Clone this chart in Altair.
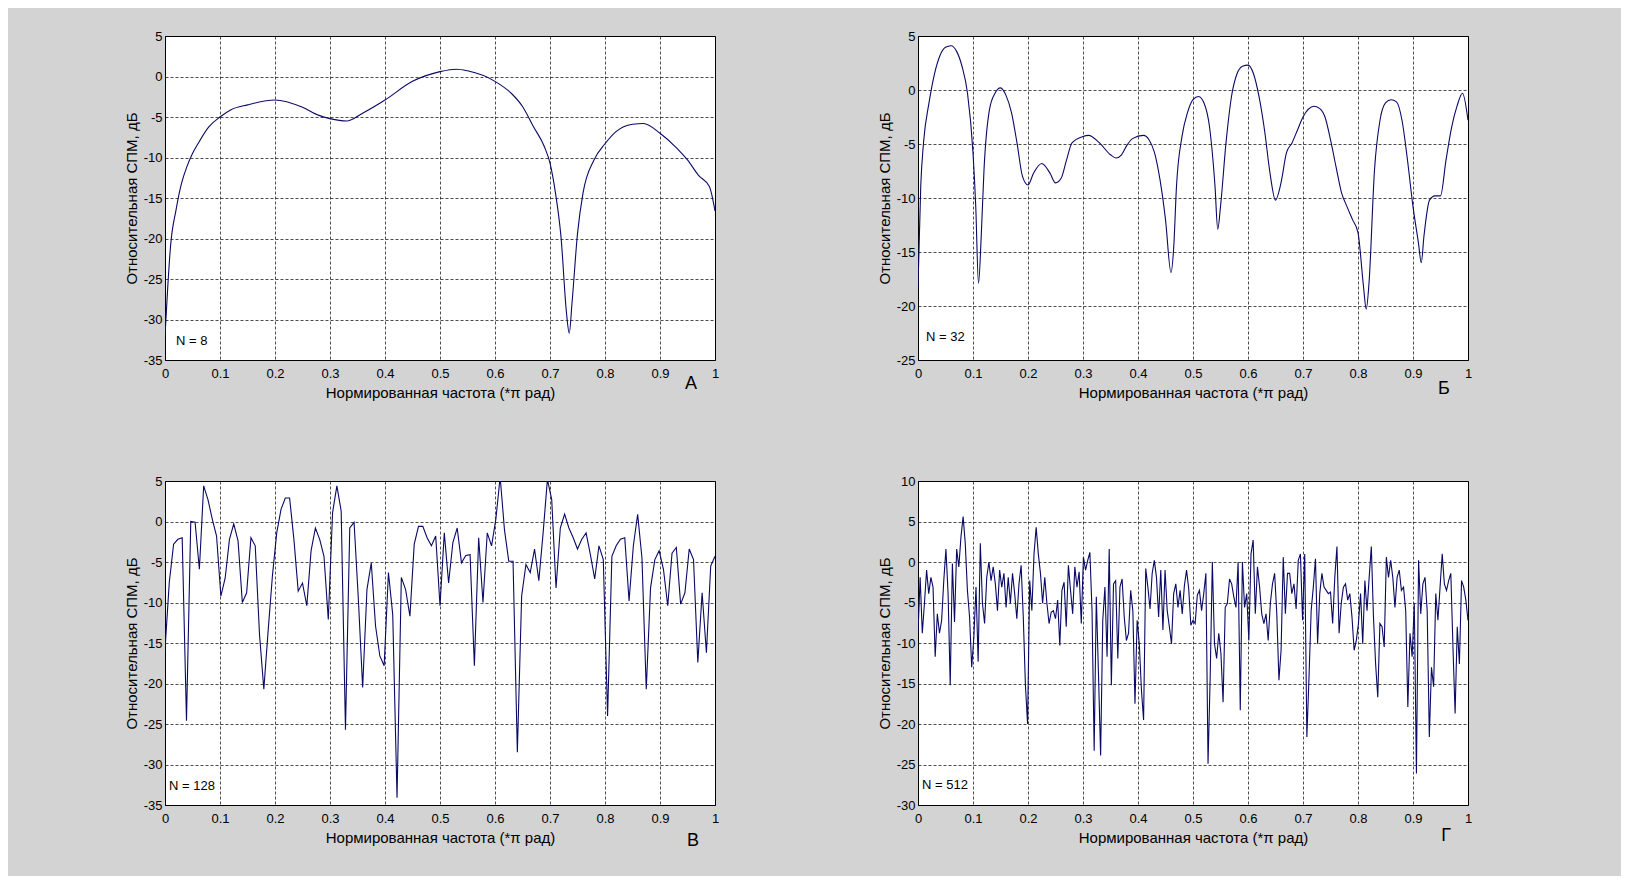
import altair as alt
import pandas as pd

FONT = "Liberation Sans"
LINE_COLOR = "#0a0a66"
BG = "#d3d3d3"

X_TITLE = "Нормированная частота (*π рад)"
Y_TITLE = "Относительная СПМ, дБ"
X_TICKS = [0, 0.1, 0.2, 0.3, 0.4, 0.5, 0.6, 0.7, 0.8, 0.9, 1]

# Panel A (N = 8)
F8 = [0, 0.005, 0.01, 0.02, 0.03, 0.04, 0.05, 0.06, 0.08, 0.1, 0.12, 0.15, 0.2, 0.25,
      0.28, 0.3, 0.33, 0.36, 0.4, 0.45, 0.5, 0.53, 0.55, 0.6, 0.63, 0.65, 0.67, 0.69,
      0.7, 0.71, 0.72, 0.73, 0.735, 0.74, 0.75, 0.76, 0.78, 0.8, 0.82, 0.85, 0.87, 0.9,
      0.93, 0.95, 0.97, 0.99, 1.0]
V8 = [-32, -26, -21, -16.5, -13.2, -11.1, -9.5, -8.3, -6.2, -5.0, -4.1, -3.5, -2.9, -3.8,
      -4.8, -5.2, -5.5, -4.5, -2.9, -0.6, 0.6, 0.9, 0.7, -0.6, -2.1, -3.7, -6.2, -8.7,
      -10.7, -14.4, -19.8, -29.2, -31.7, -28, -19.4, -14.4, -10.3, -8.3, -6.8, -5.9, -5.8, -7.0,
      -8.8, -10.3, -12.2, -13.6, -16.6]

# Panel Б (N = 32)
F32 = [0, 0.005, 0.01, 0.02, 0.03, 0.04, 0.05, 0.06, 0.07, 0.08,
       0.09, 0.1, 0.105, 0.11, 0.115, 0.12, 0.13, 0.14, 0.15, 0.16,
       0.17, 0.18, 0.19, 0.2, 0.21, 0.225, 0.24, 0.25, 0.26, 0.27,
       0.28, 0.3, 0.31, 0.33, 0.35, 0.36, 0.37, 0.38, 0.39, 0.41,
       0.42, 0.43, 0.44, 0.45, 0.46, 0.465, 0.47, 0.48, 0.49, 0.5,
       0.51, 0.52, 0.53, 0.54, 0.545, 0.55, 0.56, 0.57, 0.58, 0.59,
       0.6, 0.61, 0.62, 0.63, 0.64, 0.65, 0.66, 0.67, 0.68, 0.69,
       0.7, 0.72, 0.73, 0.74, 0.75, 0.76, 0.77, 0.78, 0.79, 0.8,
       0.81, 0.815, 0.82, 0.83, 0.84, 0.85, 0.86, 0.87, 0.88, 0.89,
       0.9, 0.91, 0.915, 0.92, 0.93, 0.94, 0.95, 0.96, 0.97, 0.98,
       0.99, 1.0]
V32 = [-18.2, -8.9, -4.9, -1.2, 1.5, 3.2, 3.95, 4.1, 3.6, 2.2,
       -0.3, -5.8, -10.8, -17.9, -13.5, -7.4, -1.8, -0.3, 0.2, -0.5,
       -2.1, -4.9, -8.0, -8.8, -7.7, -6.8, -7.7, -8.6, -8.2, -6.5,
       -4.9, -4.3, -4.2, -4.9, -6.0, -6.3, -6.0, -5.1, -4.5, -4.2,
       -4.6, -5.8, -8.3, -12.0, -16.9, -14.5, -8.9, -4.3, -2.1, -0.9,
       -0.6, -1.2, -3.4, -8.9, -12.9, -10.8, -4.9, -0.6, 1.5, 2.2,
       2.3, 1.5, -0.6, -3.7, -7.7, -10.2, -8.6, -5.8, -4.9, -3.7,
       -2.5, -1.5, -1.7, -2.5, -4.6, -7.1, -9.5, -10.8, -12.0, -13.2,
       -18.2, -20.3, -17.9, -7.4, -2.8, -1.2, -0.9, -1.1, -2.8, -6.5,
       -10.8, -14.2, -16.0, -13.5, -10.2, -9.8, -9.8, -6.5, -3.5, -1.5,
       -0.3, -2.8]

# Panel В (N = 128), frequency step 1/128
V128 = [-15.8, -7.5, -2.8, -2.2, -2.0, -24.6, 0.0, -0.1, -5.9, 4.4,
        2.7, 0.3, -1.8, -9.2, -7.0, -2.2, -0.3, -2.4, -10.0, -8.8,
        -2.0, -3.0, -14.0, -20.7, -13.5, -6.7, -1.4, 1.5, 2.9, 2.9,
        -2.2, -8.6, -7.6, -10.4, -3.6, -0.8, -2.2, -4.3, -12.1, 1.1,
        4.4, 1.3, -25.7, -0.8, -0.1, -9.6, -20.5, -8.4, -5.1, -12.9,
        -16.6, -17.8, -6.3, -11.5, -34.1, -6.9, -8.4, -11.7, -2.8, -0.6,
        -0.6, -2.0, -3.0, -1.8, -10.4, -1.4, -7.6, -2.6, -0.8, -5.1,
        -4.2, -4.1, -17.8, -2.0, -10.0, -1.4, -3.0, 0.3, 5.5, -1.0,
        -4.9, -4.9, -28.5, -9.2, -5.3, -6.3, -3.4, -7.3, -1.4, 5.2,
        2.7, -8.2, -0.8, 0.9, -0.8, -2.0, -3.4, -2.2, -1.4, -4.1,
        -7.1, -3.0, -4.7, -24.0, -4.3, -3.0, -2.2, -2.0, -9.8, -3.0,
        0.9, -4.5, -20.7, -8.2, -4.7, -3.6, -5.9, -10.4, -3.9, -3.2,
        -10.2, -8.8, -3.4, -4.7, -17.4, -8.8, -16.2, -5.5, -4.3]
F128 = [k / 128 for k in range(len(V128))]

# Panel Г (N = 512), frequency step 1/256
V512 = [-8.8, -1.9, -8.8, -5.1, -1.0, -3.9, -1.9, -3.1, -11.7, -6.4,
        -8.8, -7.2, -2.3, 1.6, -3.9, -15.2, -0.2, -7.4, 1.6, -0.6,
        3.1, 5.6, 2.3, -3.5, -6.8, -13.0, -9.3, -3.1, -12.3, 2.3,
        -5.1, -7.6, -1.9, 0.0, -2.3, -0.6, -2.7, -6.0, -1.0, -3.1,
        -1.4, -5.6, -1.9, -5.1, -1.4, -3.9, -7.0, -2.7, -0.4, -6.8,
        -15.2, -20.0, -2.3, -6.0, 1.0, 4.3, 1.0, -1.4, -5.1, -1.9,
        -5.1, -7.6, -6.2, -6.0, -7.0, -4.7, -10.3, -3.5, -2.5, -8.0,
        -0.4, -3.5, -6.4, -0.6, -3.1, -1.2, -7.6, 0.6, -1.0, 0.2,
        1.2, -6.0, -23.3, -4.3, -13.8, -23.9, -7.2, -3.1, -11.7, 1.6,
        -15.2, -2.7, -2.3, -11.9, -3.1, -2.1, -6.8, -9.7, -8.8, -3.5,
        -6.0, -17.5, -7.2, -10.1, -15.8, -19.5, -0.8, -3.1, -5.8, -1.4,
        0.2, -1.9, -6.8, -1.0, -8.4, -1.0, -6.0, -8.0, -10.1, -3.9,
        -2.7, -5.6, -3.5, -6.4, -2.9, -1.0, -3.3, -7.8, -7.2, -7.6,
        -4.1, -3.5, -6.0, -3.9, -1.4, -24.9, -14.2, 0.0, -10.1, -11.9,
        -8.8, -11.3, -17.3, -5.6, -5.1, -2.1, -2.7, -4.3, -5.6, 0.0,
        -18.3, 0.0, -5.6, -3.9, -9.7, 1.0, 2.7, -6.4, -0.6, -3.1,
        -6.4, -7.6, -6.4, -9.7, -5.1, -2.7, -1.4, -6.4, -14.6, -10.9,
        0.6, -6.4, -1.4, -1.4, -3.9, -2.7, -5.8, 0.2, 1.0, -7.2,
        1.0, -21.6, -14.2, -6.0, -3.1, 0.4, -10.1, -3.9, -1.4, -3.1,
        -3.5, -3.9, -3.7, -7.6, -1.9, 1.9, -8.8, -5.1, -3.1, -2.7,
        -4.7, -3.9, -6.8, -10.9, -9.7, -7.6, -3.9, -10.1, -2.3, -6.0,
        -1.9, 1.9, -6.8, -12.6, -16.7, -7.6, -8.0, -10.5, 0.6, -1.9,
        0.2, -1.9, -5.6, -1.9, -1.0, -3.5, -3.1, -6.0, -17.9, -8.8,
        -11.7, -5.1, -26.1, 0.2, -6.4, -2.7, -1.9, -6.0, -21.6, -13.0,
        -15.4, -3.9, -7.2, -3.1, 1.0, -2.7, -3.5, -2.3, -1.4, -10.5,
        -18.7, -8.0, -12.6, -2.3, -3.1, -4.7, -7.2]
F512 = [k / 256 for k in range(len(V512))]

N_LABELS = ["N = 8", "N = 32", "N = 128", "N = 512"]
LETTERS = ["А", "Б", "В", "Г"]
Y_RANGES = [(-35, 5), (-25, 5), (-35, 5), (-30, 10)]

W, H = 550, 324


def panel(f, v, yr, n_label, letter, interp, n_xy, l_xy):
    df = pd.DataFrame({"f": f, "v": v})
    ymin, ymax = yr
    line = alt.Chart(df).mark_line(
        color=LINE_COLOR, strokeWidth=1.1, clip=True, interpolate=interp
    ).encode(
        x=alt.X("f:Q", scale=alt.Scale(domain=[0, 1], nice=False, zero=False),
                axis=alt.Axis(values=X_TICKS, title=X_TITLE, format="~g")),
        y=alt.Y("v:Q", scale=alt.Scale(domain=[ymin, ymax], nice=False, zero=False),
                axis=alt.Axis(values=list(range(ymin, ymax + 1, 5)), title=Y_TITLE,
                              labelExpr="replace(datum.label, '\u2212', '-')")),
    )
    ntext = alt.Chart(pd.DataFrame({"t": [n_label]})).mark_text(
        align="left", baseline="alphabetic", fontSize=13, color="black"
    ).encode(text="t:N", x=alt.value(n_xy[0]), y=alt.value(n_xy[1]))
    ltext = alt.Chart(pd.DataFrame({"t": [letter]})).mark_text(
        align="center", baseline="alphabetic", fontSize=18, color="black"
    ).encode(text="t:N", x=alt.value(l_xy[0]), y=alt.value(l_xy[1]))
    return alt.layer(line, ntext, ltext).properties(width=W, height=H)


pA = panel(F8, V8, Y_RANGES[0], N_LABELS[0], LETTERS[0], "monotone", (11, 309), (526, 353))
pB = panel(F32, V32, Y_RANGES[1], N_LABELS[1], LETTERS[1], "monotone", (8, 305), (526, 358))
pC = panel(F128, V128, Y_RANGES[2], N_LABELS[2], LETTERS[2], "linear", (4, 309), (528, 365))
pD = panel(F512, V512, Y_RANGES[3], N_LABELS[3], LETTERS[3], "linear", (4, 308), (528, 360))

chart = alt.concat(
    pA, pB, pC, pD, columns=2, spacing={"row": 121, "column": 203}, bounds="flush"
).properties(
    background=BG,
    padding={"left": 115, "top": 21, "right": 148, "bottom": 25},
).configure_axis(
    labelFont=FONT, titleFont=FONT, labelFontSize=13, titleFontSize=15,
    labelColor="black", titleColor="black", titleFontWeight="normal",
    domainColor="black", gridColor="black", gridDash=[3, 2], gridOpacity=1,
    gridWidth=0.7, ticks=False, tickSize=0, labelFlush=False, labelOverlap=False,
).configure_axisX(labelPadding=7, titlePadding=5).configure_axisY(
    labelPadding=3, titlePadding=4
).configure_view(stroke="black", strokeWidth=1, fill="white").configure_text(font=FONT)

chart.save("out.html", embed_options={"renderer": "svg", "actions": False})
